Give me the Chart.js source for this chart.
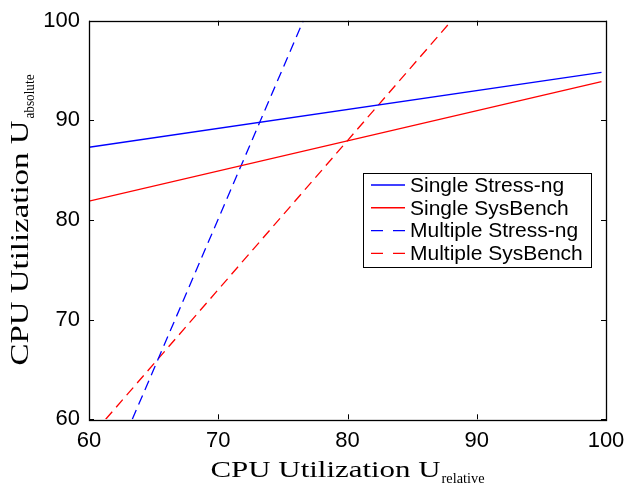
<!DOCTYPE html>
<html>
<head>
<meta charset="utf-8">
<script src="https://cdn.jsdelivr.net/npm/chart.js@4/dist/chart.umd.min.js"></script>
<style>
html,body{margin:0;padding:0;background:#fff;}
#wrap{width:627px;height:490px;}
</style>
</head>
<body>
<div id="wrap"><canvas id="c" width="627" height="490"></canvas></div>
<script>
// ---- data ----
const seriesLabels = ['Single Stress-ng', 'Single SysBench', 'Multiple Stress-ng', 'Multiple SysBench'];
const singleStressX = [60, 99.65];
const singleStressY = [87.3, 94.82];
const singleSysX = [60, 99.65];
const singleSysY = [81.9, 93.88];
const multiStressX = [63.35, 76.58];
const multiStressY = [60, 100];
const multiSysX = [61.29, 88.05];
const multiSysY = [60, 100];
const xTicks = [60, 70, 80, 90, 100];
const yTicks = [60, 70, 80, 90, 100];
const xTitleMain = 'CPU Utilization U', xTitleSub = 'relative';
const yTitleMain = 'CPU Utilization U', yTitleSub = 'absolute';

const pts = (xs, ys) => xs.map((x, i) => ({x: x, y: ys[i]}));
const colors = ['#0000ff', '#ff0000', '#0000ff', '#ff0000'];
const dashes = [[], [], [10, 6], [10, 6]];
const legendDashes = [[], [], [12, 10], [12, 10]];
const seriesData = [
  pts(singleStressX, singleStressY),
  pts(singleSysX, singleSysY),
  pts(multiStressX, multiStressY),
  pts(multiSysX, multiSysY)
];

const frame = {
  id: 'frame',
  afterDatasetsDraw(chart) {
    const ctx = chart.ctx, a = chart.chartArea;
    const xs = chart.scales.x, ys = chart.scales.y;
    ctx.save();
    ctx.strokeStyle = '#000';
    ctx.lineWidth = 1;
    ctx.beginPath();
    xs.ticks.forEach(t => {
      const px = Math.round(xs.getPixelForValue(t.value)) + 0.5;
      ctx.moveTo(px, a.bottom); ctx.lineTo(px, a.bottom - 5);
      ctx.moveTo(px, a.top); ctx.lineTo(px, a.top + 5);
    });
    ys.ticks.forEach(t => {
      const py = Math.round(ys.getPixelForValue(t.value)) + 0.5;
      ctx.moveTo(a.left, py); ctx.lineTo(a.left + 5, py);
      ctx.moveTo(a.right, py); ctx.lineTo(a.right - 5, py);
    });
    ctx.stroke();
    ctx.lineWidth = 1.3;
    ctx.strokeRect(Math.round(a.left) + 0.5, Math.round(a.top) + 0.5, Math.round(a.right - a.left), Math.round(a.bottom - a.top));

    // legend box
    const lx = 363.5, ly = 173.5, lw = 228, lh = 94;
    ctx.fillStyle = '#fff';
    ctx.fillRect(lx, ly, lw, lh);
    ctx.lineWidth = 1;
    ctx.strokeStyle = '#000';
    ctx.strokeRect(lx, ly, lw, lh);
    ctx.font = '21px "Liberation Sans", Arial, sans-serif';
    ctx.textBaseline = 'middle';
    ctx.textAlign = 'left';
    seriesLabels.forEach((lab, i) => {
      const cy = 185 + i * 22.8;
      ctx.strokeStyle = colors[i];
      ctx.lineWidth = 1.4;
      ctx.setLineDash(legendDashes[i]);
      ctx.beginPath();
      ctx.moveTo(371, cy); ctx.lineTo(405, cy);
      ctx.stroke();
      ctx.setLineDash([]);
      ctx.fillStyle = '#000';
      ctx.fillText(lab, 410, cy + 1);
    });

    // axis titles with subscripts
    ctx.fillStyle = '#000';
    ctx.textBaseline = 'alphabetic';
    const cx = (a.left + a.right) / 2;
    ctx.font = '23px "Liberation Serif", "Times New Roman", serif';
    const mw = ctx.measureText(xTitleMain).width;
    const sxMain = 230 / mw;
    ctx.font = '15px "Liberation Serif", "Times New Roman", serif';
    const sw = ctx.measureText(xTitleSub).width;
    const sxSub = 43 / sw;
    const total = 230 + 1 + 43;
    let x0 = cx - total / 2;
    ctx.save();
    ctx.translate(x0, 476.5); ctx.scale(sxMain, 1);
    ctx.font = '23px "Liberation Serif", "Times New Roman", serif';
    ctx.fillText(xTitleMain, 0, 0);
    ctx.restore();
    ctx.save();
    ctx.translate(x0 + 231, 482.5); ctx.scale(sxSub, 1);
    ctx.font = '15px "Liberation Serif", "Times New Roman", serif';
    ctx.fillText(xTitleSub, 0, 0);
    ctx.restore();
    // y title (rotated)
    const cyMid = (a.top + a.bottom) / 2;
    ctx.font = '25px "Liberation Serif", "Times New Roman", serif';
    const ymw = ctx.measureText(yTitleMain).width;
    const yMainW = 245;
    ctx.font = '15px "Liberation Serif", "Times New Roman", serif';
    const ysw = ctx.measureText(yTitleSub).width;
    const ySubW = 44;
    const ytotal = yMainW + 2 + ySubW;
    ctx.save();
    ctx.translate(28, cyMid + ytotal / 2);
    ctx.rotate(-Math.PI / 2);
    ctx.save();
    ctx.scale(yMainW / ymw, 1);
    ctx.font = '25px "Liberation Serif", "Times New Roman", serif';
    ctx.fillText(yTitleMain, 0, 0);
    ctx.restore();
    ctx.save();
    ctx.translate(yMainW + 2, 6);
    ctx.scale(ySubW / ysw, 1);
    ctx.font = '15px "Liberation Serif", "Times New Roman", serif';
    ctx.fillText(yTitleSub, 0, 0);
    ctx.restore();
    ctx.restore();
    ctx.restore();
  }
};

new Chart(document.getElementById('c'), {
  type: 'scatter',
  data: {
    datasets: seriesLabels.map((lab, i) => ({
      label: lab,
      data: seriesData[i],
      showLine: true,
      borderColor: colors[i],
      backgroundColor: colors[i],
      borderWidth: 1.3,
      borderDash: dashes[i],
      pointRadius: 0,
      pointHoverRadius: 0,
      tension: 0
    }))
  },
  options: {
    responsive: false,
    animation: false,
    devicePixelRatio: 1,
    layout: {padding: {top: 20.7, right: 21, left: 0, bottom: 0}},
    plugins: {legend: {display: false}, tooltip: {enabled: false}},
    scales: {
      x: {
        type: 'linear', min: 60, max: 100,
        afterBuildTicks: s => { s.ticks = xTicks.map(v => ({value: v})); },
        afterFit: s => { s.height = 70.7; s.paddingLeft = 0; s.paddingRight = 0; },
        grid: {display: false, drawTicks: false},
        border: {display: false},
        ticks: {color: '#000', padding: 8, font: {family: '"Liberation Sans", Arial, sans-serif', size: 22}}
      },
      y: {
        type: 'linear', min: 60, max: 100,
        afterBuildTicks: s => { s.ticks = yTicks.map(v => ({value: v})); },
        afterFit: s => { s.width = 89; s.paddingTop = 0; s.paddingBottom = 0; },
        grid: {display: false, drawTicks: false},
        border: {display: false},
        ticks: {color: '#000', padding: 9, font: {family: '"Liberation Sans", Arial, sans-serif', size: 22}}
      }
    }
  },
  plugins: [frame]
});
</script>
</body>
</html>
